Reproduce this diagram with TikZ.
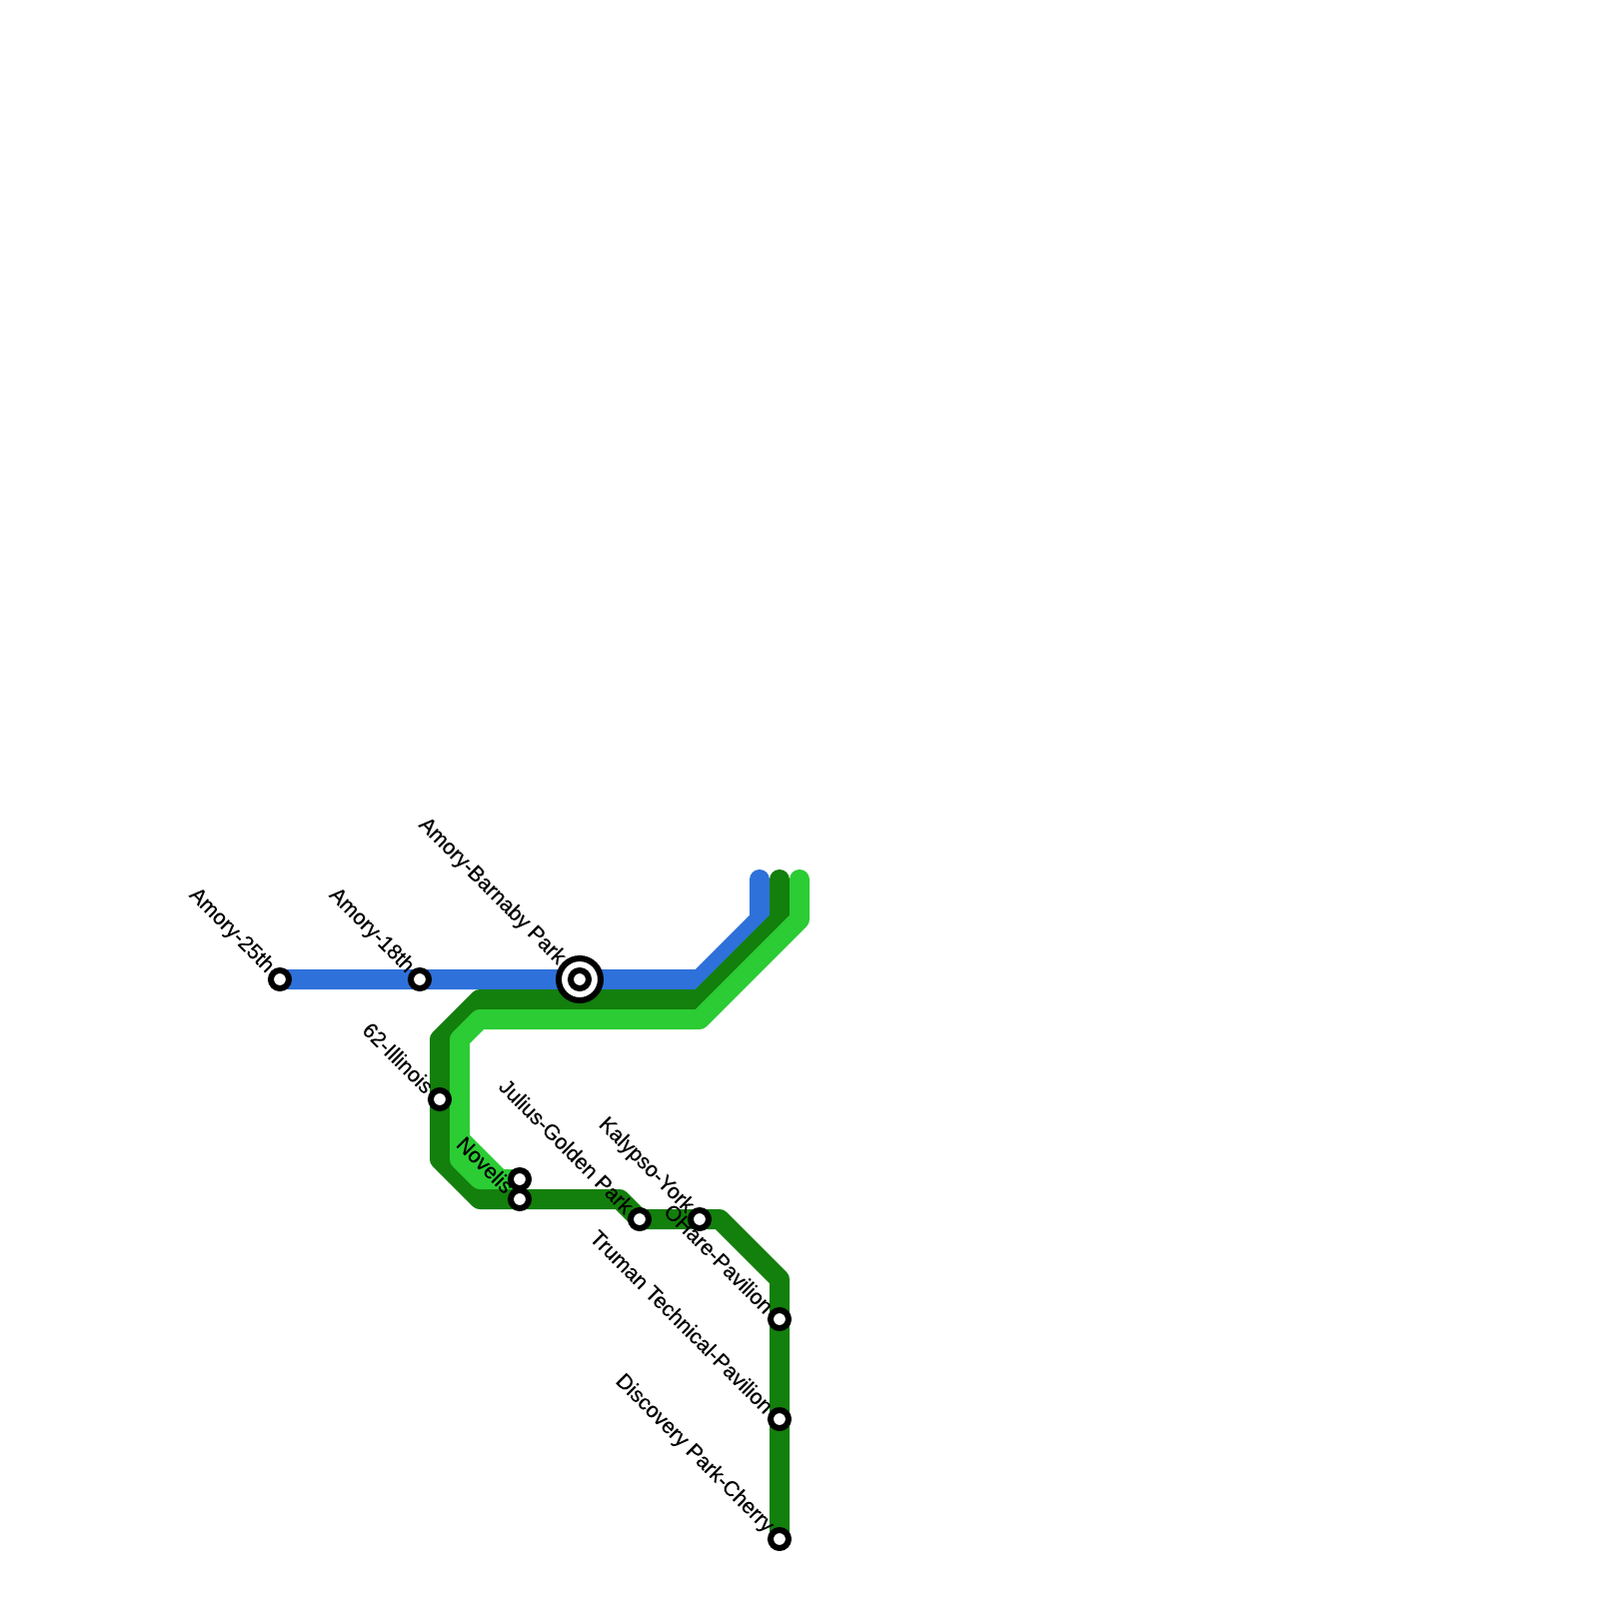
\documentclass[tikz,border=0pt]{standalone}
\usepackage{fontspec}
\newfontfamily\labelfont[FakeBold=0.35]{Liberation Sans}
\usepackage{xcolor}
\usetikzlibrary{positioning}
\definecolor{cblue}{HTML}{2F71DA}
\definecolor{cdark}{HTML}{137F0C}
\definecolor{clight}{HTML}{2BCC34}
\tikzset{
  metroline/.style={line width=2mm, line cap=round, line join=round},
  station/.style={circle, draw=black, fill=white, line width=0.6mm, minimum size=1.8mm, inner sep=0pt},
  hubring/.style={circle, draw=black, fill=white, line width=0.6mm, minimum size=4.2mm, inner sep=0pt},
  stationlabel/.style={anchor=east, rotate=-45, font=\fontsize{6.05pt}{7pt}\labelfont, inner sep=0.1mm, text=black}
}
\begin{document}
\begin{tikzpicture}[x=0.1mm, y=-0.1mm]
    \useasboundingbox (0,0) rectangle (1600,1600);
    % stops
    \coordinate (amory25) at (280,980);
    \coordinate (amory18) at (420,980);
    \coordinate (barnaby) at (580,980);
    \coordinate (illinois) at (440,1100);
    \coordinate (novelisa) at (520,1180);
    \coordinate (novelisb) at (520,1200);
    \coordinate (julius) at (640,1220);
    \coordinate (kalypso) at (700,1220);
    \coordinate (ohare) at (780,1320);
    \coordinate (truman) at (780,1420);
    \coordinate (discovery) at (780,1540);

    % lines
    \draw[metroline, cblue] (760,880) -- (760,920) -- (700,980) -- (barnaby) -- (amory18) -- (amory25);
    \draw[metroline, cdark] (780,880) -- (780,920) -- (700,1000) -- (480,1000) -- (440,1040)
      -- (illinois) -- (440,1160) -- (480,1200) -- (novelisb) -- (620,1200) -- (julius) -- (kalypso)
      -- (720,1220) -- (780,1280) -- (ohare) -- (truman) -- (discovery);
    \draw[metroline, clight] (800,880) -- (800,920) -- (700,1020) -- (480,1020) -- (460,1040)
      -- (460,1160) -- (480,1180) -- (novelisa);
    \draw[metroline, clight] (460,1140) -- (500,1180);

    % stations
    \node[station] (nAmory25) at (amory25) {};
    \node[station] (nAmory18) at (amory18) {};
    \node[hubring] (nHub) at (barnaby) {};
    \node[station] (nBarnaby) at (barnaby) {};
    \node[station] (nIllinois) at (illinois) {};
    \node[station] (nNovelisA) at (novelisa) {};
    \node[station] (nNovelisB) at (novelisb) {};
    \node[station] (nJulius) at (julius) {};
    \node[station] (nKalypso) at (kalypso) {};
    \node[station] (nOhare) at (ohare) {};
    \node[station] (nTruman) at (truman) {};
    \node[station] (nDiscovery) at (discovery) {};

    % labels
    \node[stationlabel] at (nAmory25.135) {Amory-25th};
    \node[stationlabel] at (nAmory18.135) {Amory-18th};
    \node[stationlabel] at (nHub.135) {Amory-Barnaby Park};
    \node[stationlabel] at (nIllinois.135) {62-Illinois};
    \node[stationlabel] at (nNovelisB.135) {Novelis};
    \node[stationlabel] at (nJulius.135) {Julius-Golden Park};
    \node[stationlabel] at (nKalypso.135) {Kalypso-York};
    \node[stationlabel] at (nOhare.135) {OHare-Pavilion};
    \node[stationlabel] at (nTruman.135) {Truman Technical-Pavilion};
    \node[stationlabel] at (nDiscovery.135) {Discovery Park-Cherry};
  \end{tikzpicture}
\end{document}
